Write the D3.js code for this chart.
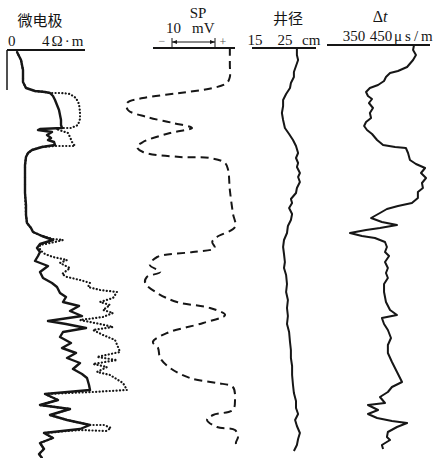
<!DOCTYPE html>
<html><head><meta charset="utf-8">
<script src="https://cdn.jsdelivr.net/npm/d3@7/dist/d3.min.js"></script>
<style>html,body{margin:0;padding:0;background:#fff;}svg{display:block;}</style>
</head><body><div id="chart"></div>
<script>
// ---- Track titles & tick labels ----
const titles = ["微电极", "SP", "井径", "Δt"];
const microTicks = [0, 4];          // Ω·m
const spScaleBar = [-10, 0];        // 10 mV bar
const caliperTicks = [15, 25];      // cm
const dtTicks = [350, 450];         // μs/m

// ---- Micro-electrode log (solid = micro-inverse, dotted = micro-normal) ----
const microSolidDepth = [0,0.8,1.8,3.0,3.6,3.9,4.0,4.1,4.4,4.8,5.3,5.8,6.3,6.8,7.3,7.6,7.7,7.8,8.0,8.3,8.6,8.8,9.0,9.3,9.5,9.8,10.1,10.5,11.3,12.8,14.1,15.3,16.3,17.1,17.6,18.0,18.4,18.8,19.2,19.6,20.0,20.4,20.9,21.4,22.0,22.6,23.1,23.5,24.1,24.5,25.0,25.4,25.9,26.4,26.9,27.2,27.6,28.0,28.5,29.1,29.6,30.1,30.6,31.1,31.7,32.2,32.6,33.3,33.8,34.2,34.8,35.3,35.7,36.3,36.8,37.3,37.7,38.1,38.6,39.1,39.7,40.2,40.6];
const microSolid = [0.9,1.3,1.5,1.5,1.8,2.7,3.7,4.2,4.5,4.7,4.9,5.1,5.2,5.3,5.3,5.4,3.2,3.0,4.4,3.9,4.3,4.0,4.6,4.7,3.4,2.4,2.0,1.8,1.7,1.7,1.7,1.8,1.8,1.9,2.3,2.5,3.4,4.5,3.2,2.9,3.2,3.0,2.7,4.0,3.2,3.5,4.4,4.9,5.2,5.8,5.5,7.1,6.2,7.4,4.0,5.8,7.8,5.5,5.2,6.3,5.4,6.8,5.9,7.2,6.5,7.4,7.9,8.1,8.2,3.7,5.0,3.2,6.2,4.2,5.9,8.2,7.2,3.6,4.5,3.2,3.6,3.1,3.4];
const microDottedDepth = [0,0.8,1.8,3.0,3.6,3.9,4.0,4.1,4.1,4.2,4.6,5.2,6.0,6.7,7.3,7.6,7.6,7.7,7.9,8.1,8.5,9.0,9.4,9.4,9.4,9.5,9.8,10.1,10.5,11.3,14.1,16.3,17.1,17.6,18.0,18.4,18.7,18.8,19.0,19.3,19.8,20.2,20.5,20.8,21.1,21.6,22.2,22.5,22.8,23.1,23.5,23.8,24.0,24.6,25.0,25.3,25.8,26.1,26.5,26.8,27.2,27.5,27.8,28.3,28.8,29.5,30.0,30.5,30.8,31.2,31.5,32.0,32.3,33.1,33.8,34.0,34.2,34.8,35.3,35.7,36.3,36.8,37.3,37.3,37.6,37.9,37.8,38.1,38.6,39.1,39.7,40.2,40.6];
const microDotted = [0.9,1.3,1.5,1.5,1.8,2.7,3.7,4.2,5.4,6.2,6.8,7.1,7.2,7.2,7.0,6.3,5.2,4.8,5.4,6.0,6.2,6.4,6.7,5.7,4.7,3.4,2.4,2.0,1.8,1.7,1.7,1.8,1.9,2.3,2.5,3.4,4.5,5.5,4.7,3.2,3.2,3.7,4.5,5.9,5.2,6.2,5.4,5.9,7.2,8.2,8.0,9.2,10.9,10.5,9.2,10.2,9.5,10.5,9.5,7.2,9.2,10.5,8.5,9.5,10.7,11.0,11.2,8.9,10.9,8.5,9.9,8.9,10.2,11.5,11.9,8.5,3.7,5.0,3.2,6.2,4.2,5.9,8.2,9.6,10.3,9.8,7.2,3.6,4.5,3.2,3.6,3.1,3.4];

// ---- SP (mV, relative to shale baseline) ----
const spDepth = [-0.4,0.1,1.3,2.5,3.1,3.6,4.1,4.6,5.1,5.8,6.5,7.1,7.6,8.1,9.0,9.5,10.0,10.5,10.6,11.1,11.8,13.8,16.1,17.5,18.5,19.0,19.6,20.0,20.5,21.3,22.0,22.5,23.1,24.1,25.0,25.6,26.3,27.1,28.1,29.0,29.6,30.6,31.6,32.6,33.1,33.5,34.8,35.8,36.3,36.8,37.5,37.8,38.5,39.1,39.6];
const spValues = [-1.2,-1.2,-1.2,-1.2,-1.9,-5.1,-12.8,-21.4,-25.1,-24.9,-20.5,-14.4,-10.0,-15.1,-21.4,-22.8,-21.4,-12.8,-5.8,-2.3,-1.6,-1.2,-0.5,0,-4.2,-5.3,-4.7,-9.8,-18.1,-19.8,-17.4,-20.5,-20.9,-18.1,-13.5,-5.8,-2.3,-7.4,-15.8,-19.1,-17.9,-17.4,-15.1,-10.5,-4.2,-0.5,0,-0.5,-5.1,-6.5,-4.2,0,0.7,0.2,0.7];

// ---- Caliper (cm) ----
const calDepth = [-0.4,0.3,0.8,1.4,2.0,2.5,3.1,3.6,4.2,4.8,5.4,6.1,6.8,7.6,8.2,8.8,9.4,10.1,10.6,11.1,11.5,12.1,12.5,13.0,13.6,14.1,14.7,15.1,15.6,16.2,16.8,17.4,18.1,18.8,19.5,20.2,21.0,21.6,22.3,23.2,24.0,24.8,25.6,26.4,27.2,28.0,29.0,29.8,30.6,31.4,32.3,33.3,34.1,34.9,35.6,36.2,36.8,37.4,38.1,38.7,39.3,39.9];
const calValues = [27.3,27.3,27.7,27.0,26.3,26.3,25.3,25.0,23.7,22.7,22.7,22.3,22.7,23.3,24.7,26.0,27.0,27.7,27.0,27.7,27.3,28.3,27.7,28.3,27.3,27.0,25.3,25.7,24.7,25.7,25.3,24.3,24.0,23.0,22.7,23.0,23.3,23.0,23.7,24.0,23.7,24.3,24.0,24.3,24.0,24.7,25.0,25.3,25.3,25.7,25.7,26.0,26.3,27.0,27.0,27.7,26.7,27.3,28.3,27.7,27.3,26.3];

// ---- Acoustic interval transit time Δt (μs/m) ----
const dtDepth = [-0.7,-0.2,0.3,0.8,1.5,1.9,2.1,2.5,2.9,3.3,3.6,4.0,4.4,4.7,5.1,5.6,6.1,6.6,7.0,7.4,7.8,8.2,8.8,9.3,9.5,9.6,10.1,10.8,11.2,11.6,12.1,12.6,13.1,13.6,14.0,14.6,15.1,15.4,15.7,16.1,16.6,17.0,17.3,17.6,17.8,18.1,18.4,18.6,19.0,19.5,20.0,20.4,21.0,21.6,22.1,22.6,23.2,24.0,25.0,25.8,26.3,26.6,27.2,27.8,28.6,29.3,30.1,31.0,32.0,33.0,33.5,34.0,34.5,35.1,35.3,35.8,36.2,36.6,36.9,37.1,37.5,38.0,38.5,38.8,39.3,39.7];
const dtValues = [596,592,604,592,567,529,496,479,471,446,412,396,404,421,408,425,412,417,396,388,400,421,442,467,517,562,571,579,604,642,625,646,629,633,612,612,587,529,483,454,417,462,525,454,396,329,379,433,475,483,475,492,475,487,479,487,471,471,479,496,525,462,471,487,500,487,487,504,525,546,504,487,454,475,404,446,404,442,504,567,525,487,483,496,462,467];

const W = 446, H = 458, ink = "#161616";
const svg = d3.select("#chart").append("svg").attr("width", W).attr("height", H);

const y = d3.scaleLinear().domain([-0.7, 40.6]).range([45, 458]);
const xMicro = d3.scaleLinear().domain([0, 4]).range([8, 48]);
const xSP = d3.scaleLinear().domain([-10, 0]).range([192, 235]);
const xCal = d3.scaleLinear().domain([15, 25]).range([260, 290]);
const xDt = d3.scaleLinear().domain([350, 450]).range([355, 379]);

const serif = "'Liberation Serif','DejaVu Serif',serif";
const cjk = "'Noto Sans CJK SC','Noto Sans CJK JP',sans-serif";

function pts(ds, vs) { return d3.zip(ds, vs).map(([d, v]) => ({d, v})); }
function draw(data, xs, opts) {
  const line = d3.line().x(p => xs(p.v)).y(p => y(p.d)).curve(opts.curve || d3.curveLinear);
  svg.append("path").datum(data).attr("d", line).attr("fill", "none")
    .attr("stroke", ink).attr("stroke-width", opts.w)
    .attr("stroke-dasharray", opts.dash || null)
    .attr("stroke-linecap", opts.cap || "butt").attr("stroke-linejoin", "round");
}
function hline(x1, x2, yy, w) {
  svg.append("line").attr("x1", x1).attr("x2", x2).attr("y1", yy).attr("y2", yy)
    .attr("stroke", ink).attr("stroke-width", w);
}
function text(t, x, yy, size, fam, anchor, extra) {
  const el = svg.append("text").attr("x", x).attr("y", yy).attr("font-size", size)
    .attr("font-family", fam).attr("text-anchor", anchor || "start").attr("fill", ink).text(t);
  if (extra) extra(el);
  return el;
}

// ---- Track 1: micro-electrode ----
text(titles[0], 40, 26, 15, cjk, "middle");
text(String(microTicks[0]), xMicro(microTicks[0]), 46, 15, serif, "start");
text(microTicks[1] + "Ω·m", xMicro(microTicks[1]) - 6, 46, 15, serif, "start", e => e.attr("letter-spacing", 2));
hline(7, 85, 50, 2);
svg.append("line").attr("x1", 7).attr("x2", 7).attr("y1", 50).attr("y2", 90).attr("stroke", ink).attr("stroke-width", 1.5);
draw(pts(microDottedDepth, microDotted), xMicro, {w: 2.2, dash: "0.1,3.3", cap: "round"});
draw(pts(microSolidDepth, microSolid), xMicro, {w: 2.4});

// ---- Track 2: SP ----
text(titles[1], 198, 18, 15, serif, "middle");
text("10", 166, 33, 15, serif, "start");
text("mV", 192, 33, 15, serif, "start");
const bx0 = xSP(spScaleBar[0]) - 20, bx1 = xSP(spScaleBar[1]) - 20;
svg.append("line").attr("x1", bx0).attr("x2", bx0).attr("y1", 38).attr("y2", 47).attr("stroke", ink).attr("stroke-width", 1);
svg.append("line").attr("x1", bx1).attr("x2", bx1).attr("y1", 38).attr("y2", 47).attr("stroke", ink).attr("stroke-width", 1);
svg.append("line").attr("x1", bx0).attr("x2", bx1).attr("y1", 42).attr("y2", 42).attr("stroke", ink).attr("stroke-width", 1);
svg.append("path").attr("d", `M${bx0},42 l5,-2 l0,4 z M${bx1},42 l-5,-2 l0,4 z`).attr("fill", ink);
text("−", bx0 - 10, 45, 12, serif, "middle", e => e.attr("fill", "#777"));
text("+", bx1 + 8, 46, 12, serif, "middle", e => e.attr("fill", "#555"));
hline(153, 235, 48, 2);
draw(pts(spDepth, spValues), xSP, {w: 2, dash: "8,5", curve: d3.curveCatmullRom});

// ---- Track 3: caliper ----
text(titles[2], 288, 24, 15, cjk, "middle");
text(String(caliperTicks[0]), xCal(caliperTicks[0]) - 5, 45, 15, serif, "middle");
text(String(caliperTicks[1]), xCal(caliperTicks[1]) - 5, 45, 15, serif, "middle");
text("cm", 302, 45, 15, serif, "start");
hline(252, 316, 48, 2);
draw(pts(calDepth, calValues), xCal, {w: 2});

// ---- Track 4: Δt ----
text("Δ", 380, 22, 16, serif, "middle").append("tspan").attr("font-style", "italic").text("t");
text(String(dtTicks[0]), xDt(dtTicks[0]) - 1, 41, 15, serif, "middle");
text(String(dtTicks[1]), xDt(dtTicks[1]) + 2, 41, 15, serif, "middle");
text("μs/m", 394, 41, 15, serif, "start", e => e.attr("letter-spacing", 3));
hline(327, 430, 45, 2);
draw(pts(dtDepth, dtValues), xDt, {w: 2});
</script></body></html>
